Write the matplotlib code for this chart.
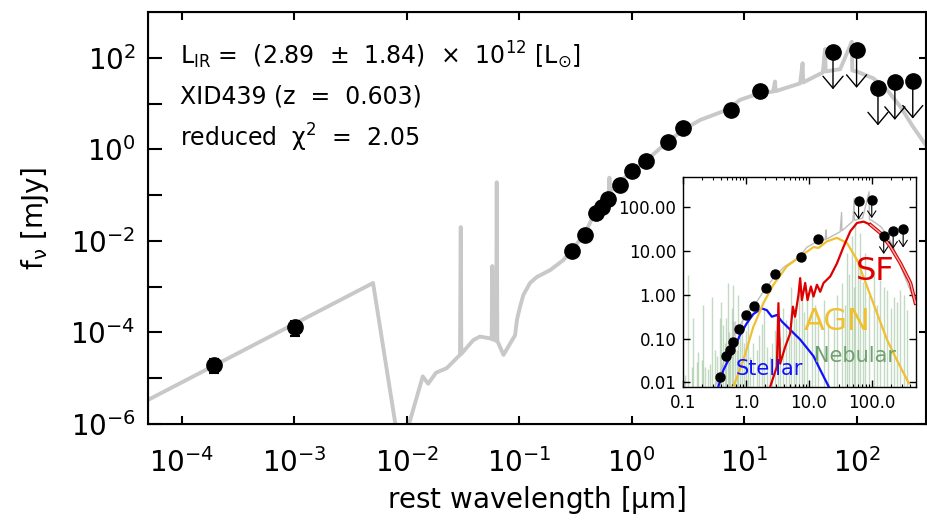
import numpy as np
import matplotlib
matplotlib.use('Agg')
import matplotlib.pyplot as plt
from matplotlib.ticker import FixedLocator, NullFormatter, FuncFormatter, NullLocator
from matplotlib.transforms import offset_copy

plt.rcParams['font.family'] = ['DejaVu Sans']
plt.rcParams['mathtext.default'] = 'regular'

# ---------------------------------------------------------------
# Dados ---------------------------------------------------------
# ---------------------------------------------------------------

# fotometria detectada [um], [mJy]
wav_det  = [1.93e-4, 1.02e-3, 0.292, 0.385, 0.479, 0.55, 0.617, 0.786, 1.01, 1.35, 2.09, 2.88, 7.6, 13.8]
flux_det = [1.95e-5, 1.32e-4, 6.0e-3, 1.32e-2, 4.0e-2, 5.6e-2, 8.3e-2, 0.17, 0.34, 0.55, 1.46, 2.92, 7.2, 18.6]
err_det  = [0.66e-5, 0.50e-4, 0, 0, 0, 0, 0, 0, 0, 0, 0, 0, 0, 0]

# limites superiores
wav_lim  = [61.7, 100.0, 155.0, 219.0, 316.0]
flux_lim = [135.0, 145.0, 22.0, 29.0, 31.0]

# modelo total (log10 um, log10 mJy)
log_wav_tot = [-4.40, -2.30, -2.05, -1.98, -1.858, -1.81, -1.74, -1.645, -1.527, -1.52, -1.515,
               -1.41, -1.35, -1.26, -1.245, -1.24, -1.235, -1.205, -1.20, -1.195, -1.186, -1.14,
               -1.037, -1.02, -0.993, -0.963, -0.904, -0.844, -0.726, -0.608, -0.53, -0.415,
               -0.326, -0.237, -0.20, -0.198, -0.195, -0.103, 0.012, 0.164, 0.297, 0.457, 0.608,
               0.846, 0.964, 1.142, 1.258, 1.275, 1.28, 1.498, 1.52, 1.525, 1.70, 1.72, 1.725,
               1.854, 1.958, 1.962, 2.0, 2.15, 2.27, 2.39, 2.50, 2.625, 2.70]
log_flux_tot = [-5.60, -2.92, -6.80, -6.00, -4.96, -5.12, -4.88, -4.78, -4.49, -1.70, -4.47,
                -4.17, -4.09, -4.13, -4.14, -2.55, -4.15, -4.18, -0.72, -4.20, -4.23, -4.49,
                -4.06, -3.72, -3.44, -3.18, -2.92, -2.79, -2.64, -2.42, -2.20, -1.83,
                -1.38, -1.06, -0.95, -0.62, -0.93, -0.71, -0.45, -0.17, 0.12, 0.42, 0.64,
                0.86, 1.08, 1.23, 1.26, 1.48, 1.27, 1.44, 1.88, 1.46, 1.68, 2.19, 1.70,
                1.75, 2.35, 1.72, 1.70, 1.55, 1.30, 0.93, 0.50, 0.06, -0.20]

# componentes (insert)
log_wav_star  = [-0.442, -0.362, -0.282, -0.203, -0.096, 0.011, 0.116, 0.25, 0.33, 0.41, 0.49,
                 0.57, 0.649, 0.754, 0.861, 0.968, 1.073, 1.18, 1.313]
log_flux_star = [-2.10, -1.72, -1.49, -1.26, -0.92, -0.65, -0.44, -0.31, -0.35, -0.50, -0.46,
                 -0.61, -0.72, -0.87, -1.02, -1.21, -1.40, -1.71, -2.09]

log_wav_agn  = [-0.203, -0.043, 0.116, 0.276, 0.435, 0.649, 0.861, 1.073, 1.153, 1.287, 1.447,
                1.606, 1.765, 1.925, 2.084, 2.244, 2.40, 2.59]
log_flux_agn = [-2.10, -1.49, -0.73, -0.19, 0.23, 0.65, 0.87, 1.09, 1.07, 1.22, 1.30,
                1.18, 0.80, 0.19, -0.42, -1.03, -1.49, -2.02]

log_wav_sf  = [0.383, 0.49, 0.515, 0.542, 0.622, 0.702, 0.745, 0.78, 0.834, 0.861, 0.888, 0.941,
               0.978, 1.032, 1.073, 1.128, 1.18, 1.233, 1.34, 1.447, 1.552, 1.659, 1.765, 1.871,
               1.978, 2.137, 2.297, 2.456, 2.616, 2.695]
log_flux_sf = [-2.10, -1.64, -0.19, -1.57, -1.19, -0.88, -0.27, -0.50, 0.0, 0.38, -0.12, 0.27,
               -0.12, 0.19, -0.04, 0.23, 0.07, 0.27, 0.42, 0.72, 1.10, 1.45, 1.64, 1.67,
               1.60, 1.41, 1.10, 0.72, 0.27, -0.19]

# linhas nebulares [um], [mJy]
wav_neb  = [0.105, 0.12, 0.136, 0.145, 0.164, 0.175, 0.196, 0.21, 0.222, 0.25, 0.267, 0.29, 0.32,
            0.35, 0.385, 0.40, 0.435, 0.46, 0.48, 0.51, 0.53, 0.556, 0.59, 0.63, 0.67, 0.71, 0.75,
            0.80, 0.86, 0.93, 1.0, 1.08, 1.16, 1.3, 1.48, 1.6, 1.78, 1.95, 2.14, 2.42, 2.6, 2.9,
            3.2, 3.48, 3.9, 4.3, 4.8, 5.2, 5.7, 6.3, 7.0, 7.7, 8.5, 9.3, 11.0, 12.6, 14.0, 17.1,
            20.0, 24.7, 28.0, 33.6, 37.0, 40.0, 44.0, 48.5, 52.0, 55.0, 60.0, 66.0, 72.0, 79.0,
            90.0, 108.0, 120.0, 137.0, 155.0, 175.0, 200.0, 224.0, 250.0, 286.0, 330.0, 370.0]
flux_neb = [0.015, 2.85, 0.023, 0.30, 0.030, 0.05, 0.032, 0.6, 0.023, 0.02, 0.027, 0.9, 0.055,
            0.04, 0.29, 0.7, 0.20, 0.078, 0.3, 1.84, 0.14, 0.11, 0.5, 1.68, 0.25, 0.055, 1.0,
            0.11, 0.3, 0.078, 0.15, 0.5, 0.039, 0.08, 0.055, 0.12, 0.22, 0.5, 0.065, 0.039, 0.08, 0.16,
            0.3, 0.11, 0.5, 0.27, 0.15, 1.5, 0.45, 0.3, 2.0, 0.76, 0.4, 0.91, 1.2, 0.59, 0.3, 0.76,
            0.2, 0.45, 1.0, 1.84, 0.6, 8.9, 3.0, 21.5, 1.5, 43.4, 5.0, 25.8, 2.0, 8.9,
            1.0, 3.7, 0.6, 2.2, 1.5, 1.3, 0.5, 0.91, 0.7, 1.3, 1.0, 0.45]

texto = [r'L$_{\rm IR}$ =  (2.89  $\pm$  1.84)  $\times$  10$^{12}$ [L$_{\odot}$]',
         'XID439 (z  =  0.603)',
         r'reduced  $\chi^{2}$  =  2.05']

# ---------------------------------------------------------------
# Plot principal ------------------------------------------------
# ---------------------------------------------------------------

cinza = '#c8c8c8'

fig = plt.figure(figsize=(9.27, 5.2), dpi=100)
ax = fig.add_axes([0.1597, 0.1846, 0.8393, 0.7924])

ax.plot(10**np.array(log_wav_tot), 10**np.array(log_flux_tot), color=cinza, lw=2.8, zorder=1)

ax.errorbar(wav_det, flux_det, yerr=err_det, fmt='o', color='black', ms=11, capsize=3.5,
            elinewidth=1.5, capthick=1.5, zorder=4)

# setas dos limites superiores
tr_main = offset_copy(ax.transData, fig=fig, y=-27, units='points')
for x, y in zip(wav_lim, flux_lim):
    ax.annotate('', xy=(x, y), xycoords=tr_main, xytext=(x, y), textcoords='data',
                arrowprops=dict(arrowstyle='->,head_length=0.43,head_width=0.36', mutation_scale=20,
                                lw=1.0, color='black', shrinkA=0, shrinkB=0), zorder=3)
ax.plot(wav_lim, flux_lim, 'o', color='black', ms=11, zorder=4)

ax.set_xscale('log')
ax.set_yscale('log')
ax.set_xlim(5e-5, 4.15e2)
ax.set_ylim(1e-6, 1e3)

ax.xaxis.set_major_locator(FixedLocator([1e-4, 1e-3, 1e-2, 1e-1, 1e0, 1e1, 1e2]))
ax.xaxis.set_minor_locator(NullLocator())
ax.yaxis.set_major_locator(FixedLocator([1e-6, 1e-5, 1e-4, 1e-3, 1e-2, 1e-1, 1e0, 1e1, 1e2]))
ax.yaxis.set_minor_locator(NullLocator())

def fmt_y(v, pos):
    e = int(round(np.log10(v)))
    if e % 2 != 0:
        return ''
    return r'10$^{%d}$' % e

def fmt_x(v, pos):
    e = int(round(np.log10(v)))
    return r'10$^{%d}$' % e

ax.yaxis.set_major_formatter(FuncFormatter(fmt_y))
ax.xaxis.set_major_formatter(FuncFormatter(fmt_x))

ax.tick_params(axis='x', which='major', direction='in', top=True, length=6, width=1.5,
               labelsize=20, pad=17)
ax.tick_params(axis='y', which='major', direction='in', right=False, length=10, width=1.5,
               labelsize=20, pad=9)
for s in ax.spines.values():
    s.set_linewidth(1.5)

ax2 = ax.twinx()
ax2.set_yscale('log')
ax2.set_ylim(1e-6, 1e3)
ax2.yaxis.set_major_locator(FixedLocator([1e-6, 1e-4, 1e-2, 1e0, 1e2]))
ax2.yaxis.set_minor_locator(NullLocator())
ax2.yaxis.set_major_formatter(NullFormatter())
ax2.tick_params(axis='y', direction='in', length=5, width=1.5)

ax.set_xlabel(r'rest wavelength $\left[\mu \mathrm{m}\right]$', fontsize=20, labelpad=5)
ax.set_ylabel(r'f$_{\nu}$ $\left[\mathrm{mJy}\right]$', fontsize=20, labelpad=14)

for i, t in enumerate(texto):
    ax.text(0.041, 0.895 - i * 0.1, t, transform=ax.transAxes, fontsize=17, va='center', ha='left')

# ---------------------------------------------------------------
# Insert com as componentes --------------------------------------
# ---------------------------------------------------------------

axi = fig.add_axes([0.737, 0.2563, 0.2508, 0.4035])
axi.set_facecolor('white')

axi.vlines(wav_neb, 1e-3, flux_neb, color='#8fbc8f', lw=1.0, alpha=0.55, zorder=1)
axi.plot(10**np.array(log_wav_tot), 10**np.array(log_flux_tot), color='#bdbdbd', lw=1.0, zorder=2)
axi.plot(10**np.array(log_wav_star), 10**np.array(log_flux_star), color='#1010ff', lw=1.6, zorder=3)
axi.plot(10**np.array(log_wav_agn), 10**np.array(log_flux_agn), color='#f0c030', lw=1.6, zorder=3)
axi.plot(10**np.array(log_wav_sf), 10**np.array(log_flux_sf), color='#dd0000', lw=1.6, zorder=3)
# trecho final do SF como faixa dupla
axi.plot(10**np.array(log_wav_sf[24:]), 10**np.array(log_flux_sf[24:]), color='#dd0000', lw=2.6, zorder=3)
axi.plot(10**np.array(log_wav_sf[24:]), 10**np.array(log_flux_sf[24:]), color='#f4b0b0', lw=1.0, zorder=3)

tr_in = offset_copy(axi.transData, fig=fig, y=-13, units='points')
for x, y in zip(wav_lim, flux_lim):
    axi.annotate('', xy=(x, y), xycoords=tr_in, xytext=(x, y), textcoords='data',
                 arrowprops=dict(arrowstyle='->,head_length=0.45,head_width=0.3', mutation_scale=10,
                                 lw=0.8, color='black', shrinkA=0, shrinkB=0), zorder=4)
axi.plot(wav_det, flux_det, 'o', color='black', ms=6.5, zorder=5)
axi.plot(wav_lim, flux_lim, 'o', color='black', ms=6.5, zorder=5)

axi.set_xscale('log')
axi.set_yscale('log')
axi.set_xlim(0.1, 500)
axi.set_ylim(0.008, 490)
axi.xaxis.set_major_locator(FixedLocator([0.1, 1, 10, 100]))
axi.xaxis.set_major_formatter(FuncFormatter(lambda v, p: '%.1f' % v))
axi.xaxis.set_minor_formatter(NullFormatter())
axi.yaxis.set_major_locator(FixedLocator([0.01, 0.1, 1, 10, 100]))
axi.yaxis.set_minor_locator(NullLocator())
axi.yaxis.set_major_formatter(FuncFormatter(lambda v, p: '%.2f' % v))
axi.tick_params(which='major', direction='in', top=True, right=True, length=5, width=1.0,
                labelsize=12, pad=5)
axi.tick_params(which='minor', direction='in', top=True, length=2.5, width=0.8)
for s in axi.spines.values():
    s.set_linewidth(1.0)

axi.text(0.825, 0.55, 'SF', transform=axi.transAxes, color='#dd0000', fontsize=23, ha='center', va='center')
axi.text(0.66, 0.31, 'AGN', transform=axi.transAxes, color='#f0c030', fontsize=22, ha='center', va='center')
axi.text(0.74, 0.145, 'Nebular', transform=axi.transAxes, color='#6fa070', fontsize=15, ha='center', va='center')
axi.text(0.37, 0.085, 'Stellar', transform=axi.transAxes, color='#1010ff', fontsize=15, ha='center', va='center')

plt.savefig('out.png', dpi=100)
